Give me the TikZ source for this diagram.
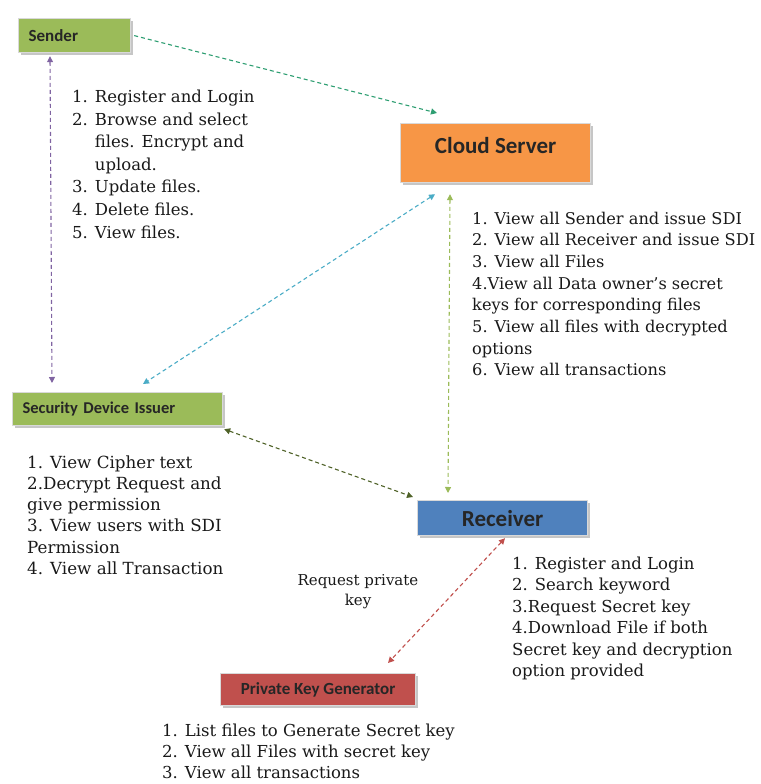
\documentclass[tikz,border=0pt]{standalone}
\usepackage{fontspec}
\setmainfont{DejaVu Serif}
\newfontfamily\boxfont{Carlito}
\usetikzlibrary{arrows.meta,calc,shadows}
\definecolor{sgreen}{HTML}{9BBB59}
\definecolor{corange}{HTML}{F79646}
\definecolor{rblue}{HTML}{4F81BD}
\definecolor{pred}{HTML}{C0504D}
\definecolor{aTeal}{HTML}{2E9E72}
\definecolor{aPurple}{HTML}{8064A2}
\definecolor{aBlue}{HTML}{4BACC6}
\definecolor{aLight}{HTML}{9BBB59}
\definecolor{aOlive}{HTML}{4F6228}
\definecolor{aRed}{HTML}{C0504D}
\begin{document}
\begin{tikzpicture}[x=1pt,y=-1pt,
  box/.style={draw=white!85!black, line width=1.2pt, inner sep=0pt,
    drop shadow={shadow xshift=2pt,shadow yshift=-2pt,opacity=0.45},
    font=\boxfont\bfseries, text=black!85},
  txt/.style={inner sep=0pt, align=left, text=black!90},
  conn/.style={dash pattern=on 4pt off 3pt, line width=1.1pt},
  both/.style={conn,{Triangle[length=6pt,width=6pt]}-{Triangle[length=6pt,width=6pt]}},
  one/.style={conn,-{Triangle[length=6pt,width=6pt]}}]
\useasboundingbox (0,0) rectangle (760,784);

% boxes
\node[box, fill=sgreen, anchor=north west, minimum width=112pt, minimum height=34pt,
  text width=100pt, align=left, font=\boxfont\bfseries\fontsize{17}{19}\selectfont] (sender) at (18,18) {\hspace*{4pt}Sender};
\node[box, fill=corange, anchor=north west, minimum width=190pt, minimum height=59pt,
  font=\boxfont\bfseries\fontsize{23}{26}\selectfont] (cloud) at (400,123) {\raisebox{16pt}{Cloud Server}};
\node[box, fill=sgreen, anchor=north west, minimum width=210pt, minimum height=33pt,
  text width=204pt, align=left, font=\boxfont\bfseries\fontsize{16.5}{19}\selectfont] (sdi) at (12,392) {\hspace*{7pt}Security Device Issuer};
\node[box, fill=rblue, anchor=north west, minimum width=170pt, minimum height=35pt,
  font=\boxfont\bfseries\fontsize{23}{26}\selectfont] (receiver) at (417,500) {Receiver};
\node[box, fill=pred, anchor=north west, minimum width=195pt, minimum height=32pt,
  font=\boxfont\bfseries\fontsize{17}{19}\selectfont] (pkg) at (220,673) {Private Key Generator};

% texts
\node[txt, anchor=north west, font=\fontsize{16.5}{22.6}\selectfont] (sendertxt) at (72,86.5) {%
  \begin{tabular}{@{}r@{\hspace{7pt}}l@{}}
  1. & Register and Login\\
  2. & Browse and select\\
     & files. Encrypt and\\
     & upload.\\
  3. & Update files.\\
  4. & Delete files.\\
  5. & View files.
  \end{tabular}};
\node[txt, anchor=north west, font=\fontsize{16.2}{21.7}\selectfont] (cloudtxt) at (472,211.5) {%
  1. View all Sender and issue SDI\\
  2. View all Receiver and issue SDI\\
  3. View all Files\\
  4.View all Data owner’s secret\\
  keys for corresponding files\\
  5. View all files with decrypted\\
  options\\
  6. View all transactions};
\node[txt, anchor=north west, font=\fontsize{16.7}{21.2}\selectfont] (sditxt) at (27,455.5) {%
  1. View Cipher text\\
  2.Decrypt Request and\\
  give permission\\
  3. View users with SDI\\
  Permission\\
  4. View all Transaction};
\node[txt, align=center, font=\fontsize{15}{20}\selectfont] (reqtxt) at (358,592) {%
  Request private\\ key};
\node[txt, anchor=north west, font=\fontsize{16.5}{21.5}\selectfont] (rectxt) at (512,556.5) {%
  1. Register and Login\\
  2. Search keyword\\
  3.Request Secret key\\
  4.Download File if both\\
  Secret key and decryption\\
  option provided};
\node[txt, anchor=north west, font=\fontsize{16.5}{21}\selectfont] (pkgtxt) at (162,724) {%
  1. List files to Generate Secret key\\
  2. View all Files with secret key\\
  3. View all transactions};

% connectors
\draw[one, aTeal] ([xshift=3pt]sender.east) -- ([xshift=37pt,yshift=10pt]cloud.north west);
\draw[both, aPurple] ([xshift=32pt,yshift=-3pt]sender.south west) -- ([xshift=40pt,yshift=9pt]sdi.north west);
\draw[both, aBlue] ([xshift=35pt,yshift=-11pt]cloud.south west) -- ([xshift=131pt,yshift=8pt]sdi.north west);
\draw[both, aLight] ([xshift=50pt,yshift=-11pt]cloud.south west) -- ([xshift=31pt,yshift=7pt]receiver.north west);
\draw[both, aOlive] ([xshift=1pt,yshift=-3pt]sdi.south east) -- ([xshift=-4pt,yshift=3pt]receiver.north west);
\draw[both, aRed] ([xshift=88pt,yshift=-2pt]receiver.south west) -- ([xshift=168pt,yshift=10pt]pkg.north west);
\end{tikzpicture}
\end{document}
